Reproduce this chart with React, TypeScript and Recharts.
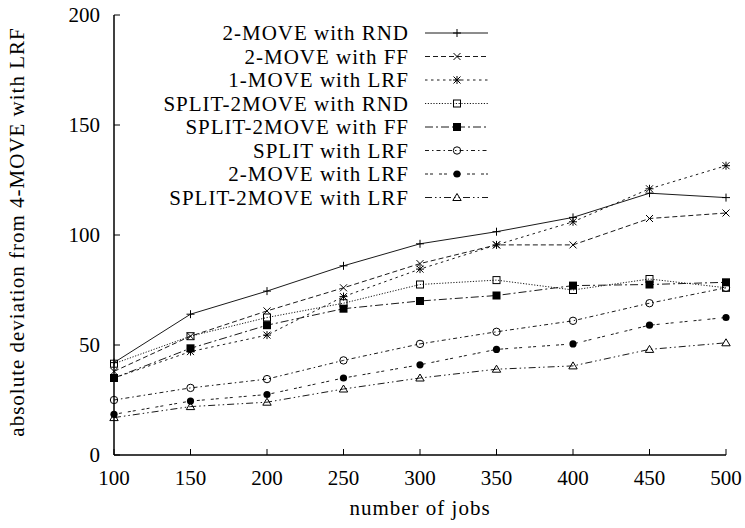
import React from 'react';
import { LineChart, Line, XAxis, YAxis, Legend } from 'recharts';

const jobs = [100, 150, 200, 250, 300, 350, 400, 450, 500];
const twoMoveRnd = [42, 64, 74.5, 86, 96, 101.5, 108, 119, 117];
const twoMoveFf = [38, 54, 65.5, 76, 87, 95.5, 95.5, 107.5, 110];
const oneMoveLrf = [35, 47, 54.5, 72, 84.5, 95.5, 106, 121, 131.5];
const split2MoveRnd = [41.5, 54, 62.5, 69, 77.5, 79.5, 75, 80, 76];
const split2MoveFf = [35, 48.5, 59, 66.5, 70, 72.5, 77, 77.5, 78.5];
const splitLrf = [25, 30.5, 34.5, 43, 50.5, 56, 61, 69, 76];
const twoMoveLrf = [18.5, 24.5, 27.5, 35, 41, 48, 50.5, 59, 62.5];
const split2MoveLrf = [17, 22, 24, 30, 35, 39, 40.5, 48, 51];

const xTicks = [100, 150, 200, 250, 300, 350, 400, 450, 500];
const yTicks = [0, 50, 100, 150, 200];

const seriesNames = [
  '2-MOVE with RND',
  '2-MOVE with FF',
  '1-MOVE with LRF',
  'SPLIT-2MOVE with RND',
  'SPLIT-2MOVE with FF',
  'SPLIT with LRF',
  '2-MOVE with LRF',
  'SPLIT-2MOVE with LRF',
];
const seriesValues = [
  twoMoveRnd,
  twoMoveFf,
  oneMoveLrf,
  split2MoveRnd,
  split2MoveFf,
  splitLrf,
  twoMoveLrf,
  split2MoveLrf,
];

const seriesStyles = [
  { dash: undefined, shape: 'plus' },
  { dash: '5 3', shape: 'cross' },
  { dash: '2.5 3.5', shape: 'star' },
  { dash: '1.2 1.6', shape: 'square' },
  { dash: '8 3 2 3', shape: 'squareFilled' },
  { dash: '4 3 1.5 3', shape: 'circle' },
  { dash: '3 2 3 6', shape: 'circleFilled' },
  { dash: '7 3 1.5 3 1.5 3', shape: 'triangle' },
];

const data = jobs.map((x, i) => {
  const row: Record<string, number> = { x };
  seriesValues.forEach((vals, s) => {
    row['s' + s] = vals[i];
  });
  return row;
});

const FONT = "'Liberation Serif', 'Times New Roman', serif";
const INK = '#000';
const LINE = '#1a1a1a';

function Marker({ shape, cx, cy }: { shape: string; cx: number; cy: number }) {
  const sw = 1;
  switch (shape) {
    case 'plus':
      return (
        <g>
          <line x1={cx - 4} y1={cy} x2={cx + 4} y2={cy} stroke={INK} strokeWidth={sw} />
          <line x1={cx} y1={cy - 4} x2={cx} y2={cy + 4} stroke={INK} strokeWidth={sw} />
        </g>
      );
    case 'cross':
      return (
        <g>
          <line x1={cx - 3.5} y1={cy - 3.5} x2={cx + 3.5} y2={cy + 3.5} stroke={INK} strokeWidth={sw} />
          <line x1={cx - 3.5} y1={cy + 3.5} x2={cx + 3.5} y2={cy - 3.5} stroke={INK} strokeWidth={sw} />
        </g>
      );
    case 'star':
      return (
        <g>
          <line x1={cx - 4} y1={cy} x2={cx + 4} y2={cy} stroke={INK} strokeWidth={sw} />
          <line x1={cx} y1={cy - 4} x2={cx} y2={cy + 4} stroke={INK} strokeWidth={sw} />
          <line x1={cx - 3.5} y1={cy - 3.5} x2={cx + 3.5} y2={cy + 3.5} stroke={INK} strokeWidth={sw} />
          <line x1={cx - 3.5} y1={cy + 3.5} x2={cx + 3.5} y2={cy - 3.5} stroke={INK} strokeWidth={sw} />
        </g>
      );
    case 'square':
      return <rect x={cx - 3.5} y={cy - 3.5} width={7} height={7} fill="none" stroke={INK} strokeWidth={sw} />;
    case 'squareFilled':
      return <rect x={cx - 4} y={cy - 4} width={8} height={8} fill={INK} />;
    case 'circle':
      return <circle cx={cx} cy={cy} r={3.7} fill="none" stroke={INK} strokeWidth={sw} />;
    case 'circleFilled':
      return <circle cx={cx} cy={cy} r={3.6} fill={INK} />;
    case 'triangle':
      return (
        <polygon
          points={`${cx},${cy - 4} ${cx - 4.2},${cy + 3} ${cx + 4.2},${cy + 3}`}
          fill="none"
          stroke={INK}
          strokeWidth={sw}
        />
      );
    default:
      return null;
  }
}

function LegendBox() {
  return (
    <svg width={745} height={215} style={{ display: 'block', pointerEvents: 'none' }}>
      {seriesNames.map((name, i) => {
        const y = 33 + 23.5 * i;
        const st = seriesStyles[i];
        return (
          <g key={name}>
            <text
              x={409}
              y={y}
              textAnchor="end"
              dominantBaseline="central"
              fontFamily={FONT}
              fontSize={21}
              letterSpacing={1}
              fill={INK}
            >
              {name}
            </text>
            <line x1={425} y1={y} x2={488} y2={y} stroke={LINE} strokeWidth={1} strokeDasharray={st.dash} />
            <Marker shape={st.shape} cx={457} cy={y} />
          </g>
        );
      })}
    </svg>
  );
}

export default function App() {
  return (
    <div style={{ position: 'absolute', left: 0, top: 0, width: 745, height: 528, background: '#fff' }}>
      <LineChart width={745} height={528} data={data} margin={{ top: 15, right: 19, left: 0, bottom: 0 }}>
        <XAxis
          dataKey="x"
          type="number"
          domain={[100, 500]}
          ticks={xTicks}
          height={73}
          tickSize={-6}
          tickMargin={21}
          axisLine={{ stroke: INK, strokeWidth: 1.5 }}
          tickLine={{ stroke: INK, strokeWidth: 1 }}
          tick={{ fontFamily: FONT, fontSize: 21, fill: INK }}
          interval={0}
          label={{
            value: 'number of jobs',
            position: 'insideBottom',
            offset: 13,
            fontFamily: FONT,
            fontSize: 21,
            fill: INK,
            letterSpacing: 1,
          }}
        />
        <XAxis
          xAxisId="top"
          orientation="top"
          dataKey="x"
          type="number"
          domain={[100, 500]}
          ticks={xTicks}
          height={0}
          tickSize={-6}
          tick={false}
          interval={0}
          axisLine={{ stroke: INK, strokeWidth: 1.5 }}
          tickLine={{ stroke: INK, strokeWidth: 1 }}
        />
        <YAxis
          type="number"
          domain={[0, 200]}
          ticks={yTicks}
          width={114}
          tickSize={-6}
          tickMargin={20}
          interval={0}
          axisLine={{ stroke: INK, strokeWidth: 1.5 }}
          tickLine={{ stroke: INK, strokeWidth: 1 }}
          tick={{ fontFamily: FONT, fontSize: 21, fill: INK }}
          label={{
            value: 'absolute deviation from 4-MOVE with LRF',
            content: () => (
              <text
                x={17}
                y={232}
                transform="rotate(-90 17 232)"
                textAnchor="middle"
                dominantBaseline="central"
                fontFamily={FONT}
                fontSize={21}
                letterSpacing={1}
                fill={INK}
              >
                absolute deviation from 4-MOVE with LRF
              </text>
            ),
          }}
        />
        <YAxis
          yAxisId="right"
          orientation="right"
          type="number"
          domain={[0, 200]}
          ticks={yTicks}
          width={0}
          tickSize={-6}
          tick={false}
          interval={0}
          axisLine={{ stroke: INK, strokeWidth: 1.5 }}
          tickLine={{ stroke: INK, strokeWidth: 1 }}
        />
        <Legend
          layout="vertical"
          align="center"
          verticalAlign="middle"
          wrapperStyle={{ left: 0, top: 0, width: 745, height: 215 }}
          content={() => <LegendBox />}
        />
        {seriesNames.map((name, s) => (
          <Line
            key={name}
            name={name}
            dataKey={'s' + s}
            stroke={LINE}
            strokeWidth={1}
            strokeDasharray={seriesStyles[s].dash}
            isAnimationActive={false}
            activeDot={false}
            dot={(p: any) => (
              <Marker key={`${name}-${p.index}`} shape={seriesStyles[s].shape} cx={p.cx} cy={p.cy} />
            )}
          />
        ))}
      </LineChart>
    </div>
  );
}
